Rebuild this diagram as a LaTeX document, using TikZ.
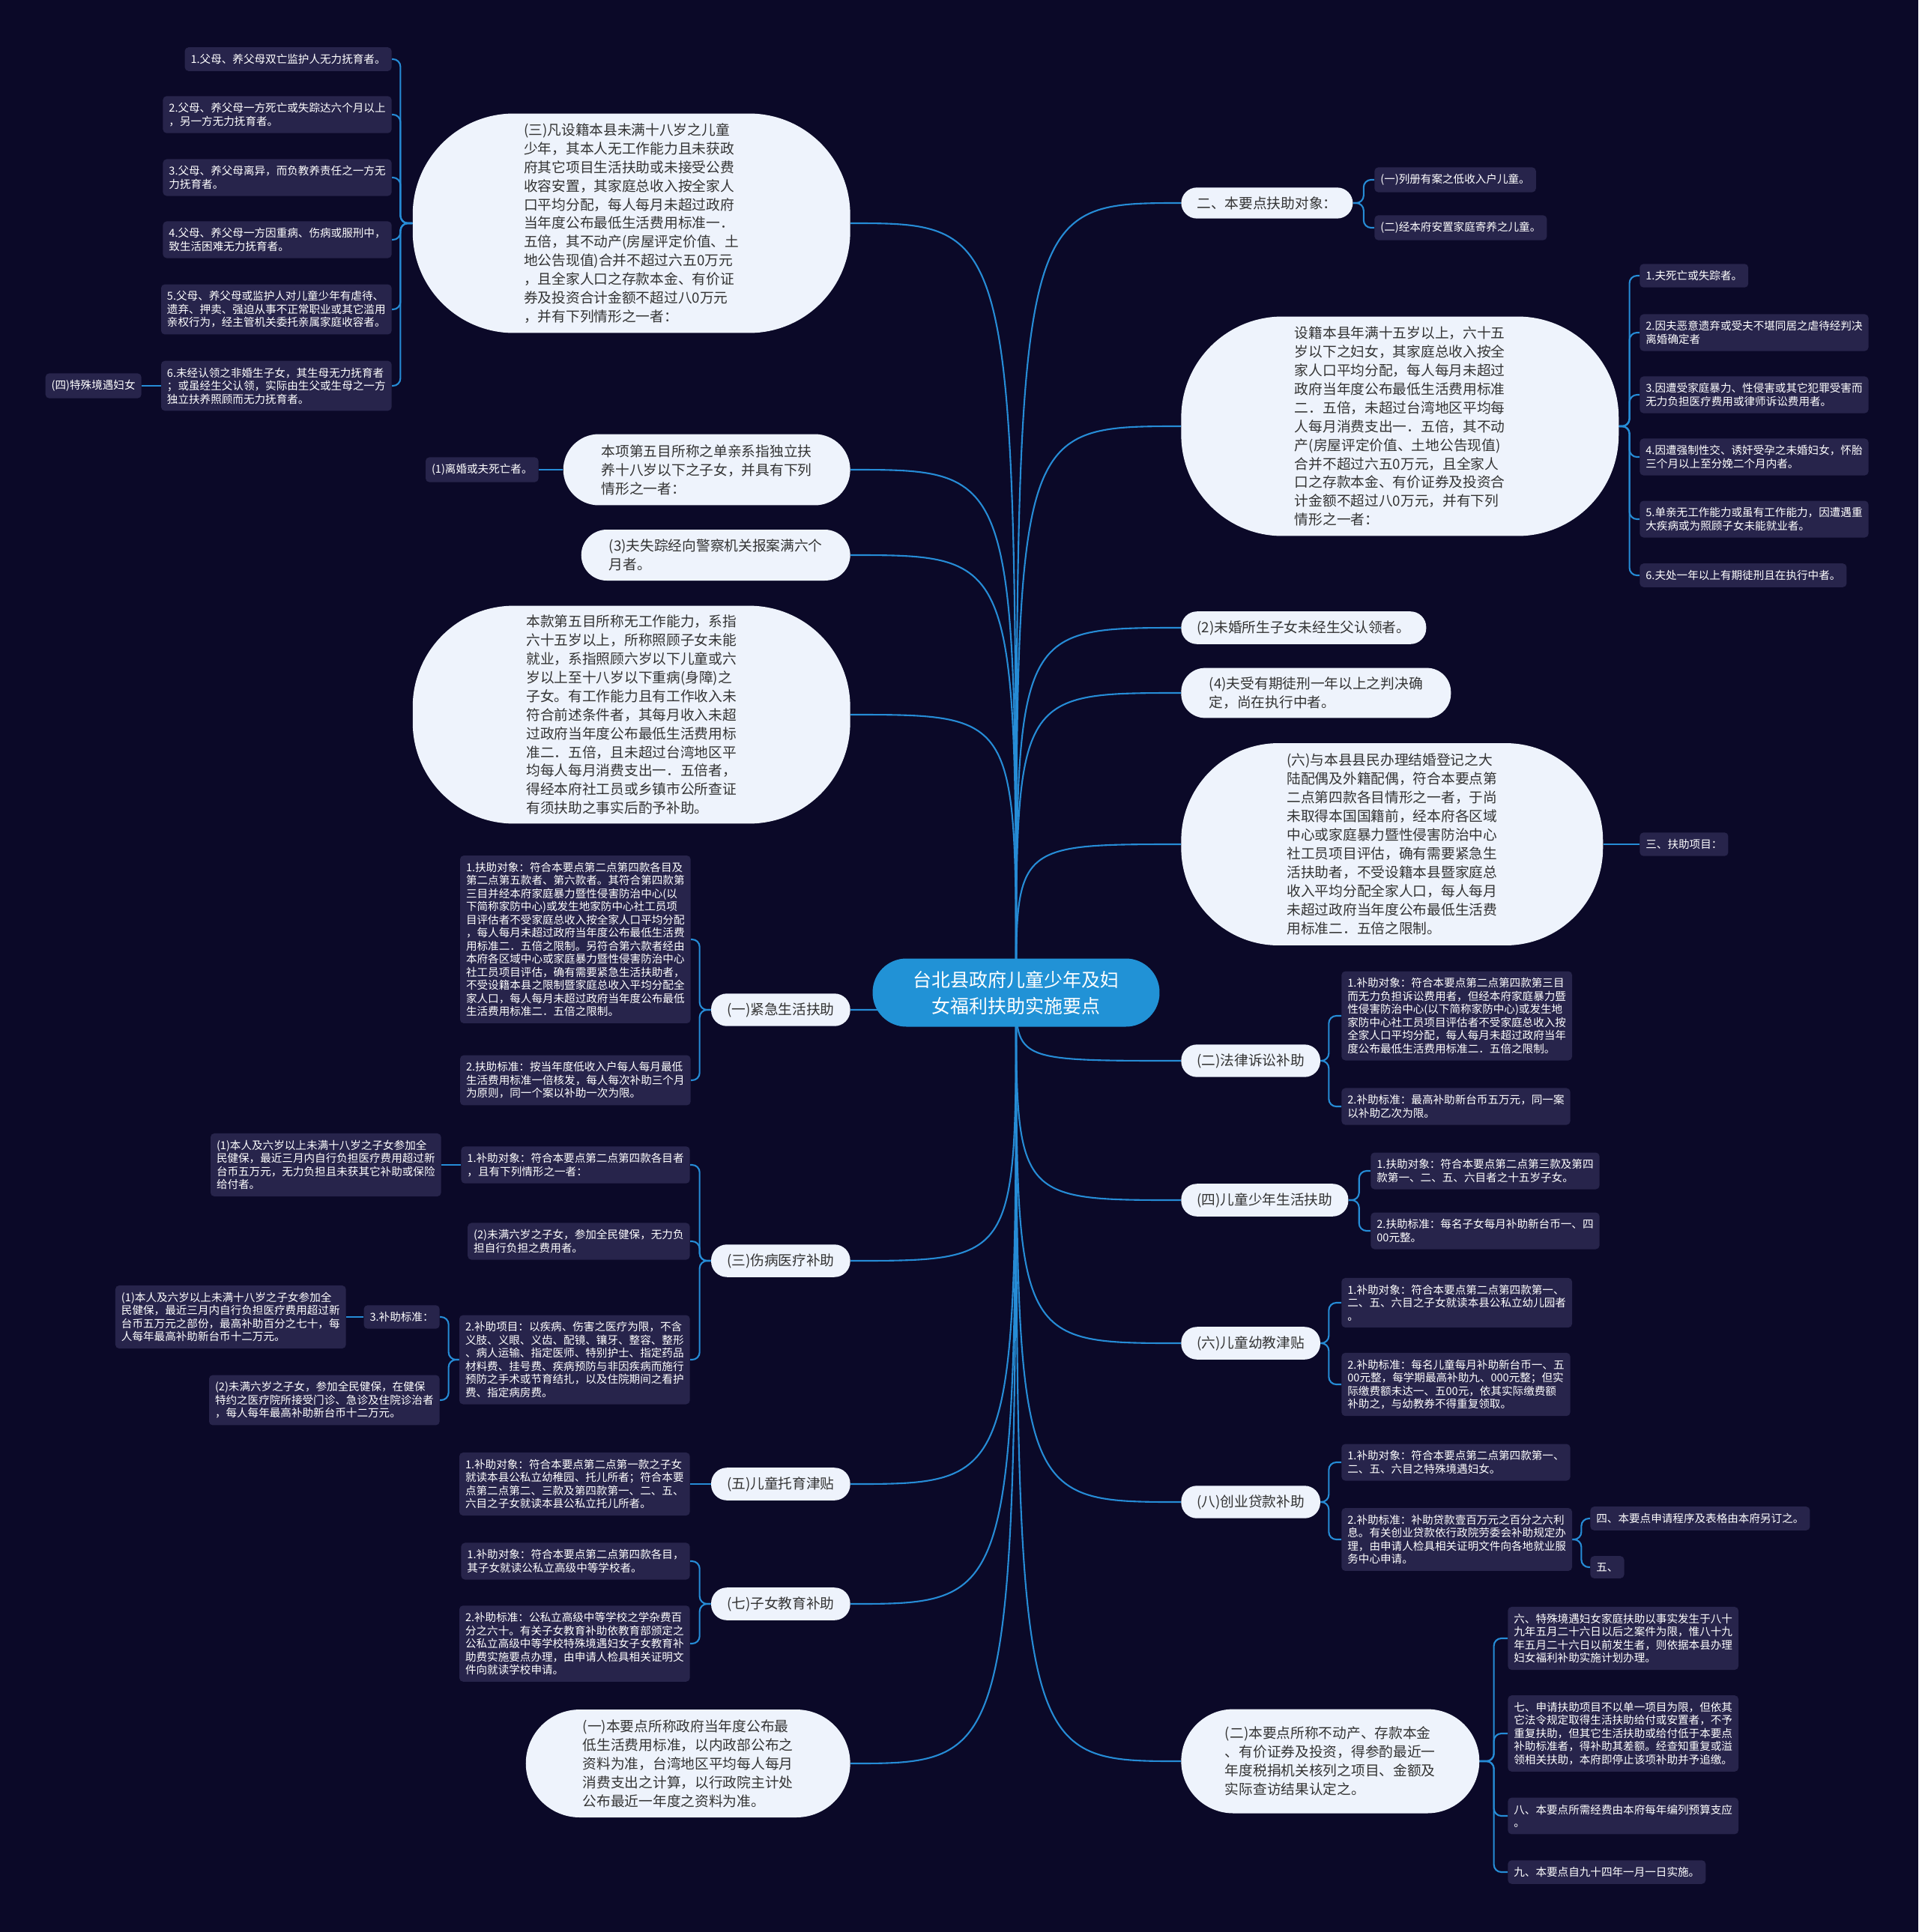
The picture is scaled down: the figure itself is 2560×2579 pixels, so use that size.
\documentclass[tikz,border=0pt]{standalone}
\usepackage{fontspec}
\setmainfont{Noto Sans CJK SC}
\usepackage{tikz}
\usetikzlibrary{backgrounds}
\definecolor{night}{RGB}{11,9,40}
\definecolor{slate}{RGB}{39,36,75}
\definecolor{ice}{RGB}{238,243,252}
\definecolor{sky}{RGB}{33,146,214}
\definecolor{wire}{RGB}{38,140,214}
\definecolor{ink}{RGB}{51,51,51}
\tikzset{
  topic/.style={fill=sky, text=white, align=center, rounded corners=0.9cm,
    minimum width=7.66cm, minimum height=1.82cm, font=\fontsize{14.2}{19.9}\selectfont},
  bubble/.style={fill=ice, text=ink, align=left, inner xsep=0.42cm, inner ysep=0.24cm,
    rounded corners=0.42cm, font=\fontsize{10.65}{14.2}\selectfont},
  leaf/.style={fill=slate, text=white, align=left, inner xsep=0.16cm, inner ysep=0.18cm,
    rounded corners=0.1cm, font=\fontsize{8.3}{9.95}\selectfont},
  link/.style={draw=wire, line width=1.2pt},
  brace/.style={link, rounded corners=0.2cm}
}
\begin{document}
\begin{tikzpicture}[x=0.02cm, y=-0.02cm]
\useasboundingbox (0,0) rectangle (2560,2579);
\node[topic] (hub) at (1356,1325) {台北县政府儿童少年及妇\\女福利扶助实施要点};

% left side
\node[bubble, anchor=east, minimum width=11.68cm, minimum height=5.86cm, rounded corners=2.7cm] (orphan) at (1135,298)
  {(三)凡设籍本县未满十八岁之儿童\\少年，其本人无工作能力且未获政\\府其它项目生活扶助或未接受公费\\收容安置，其家庭总收入按全家人\\口平均分配，每人每月未超过政府\\当年度公布最低生活费用标准一．\\五倍，其不动产(房屋评定价值、土\\地公告现值)合并不超过六五0万元\\，且全家人口之存款本金、有价证\\券及投资合计金额不超过八0万元\\，并有下列情形之一者：};
\node[leaf, anchor=east] (orphan1) at (523,79) {1.父母、养父母双亡监护人无力抚育者。};
\node[leaf, anchor=east] (orphan2) at (523,153) {2.父母、养父母一方死亡或失踪达六个月以上\\，另一方无力抚育者。};
\node[leaf, anchor=east] (orphan3) at (523,237) {3.父母、养父母离异，而负教养责任之一方无\\力抚育者。};
\node[leaf, anchor=east] (orphan4) at (523,320) {4.父母、养父母一方因重病、伤病或服刑中，\\致生活困难无力抚育者。};
\node[leaf, anchor=east] (orphan5) at (523,413) {5.父母、养父母或监护人对儿童少年有虐待、\\遗弃、押卖、强迫从事不正常职业或其它滥用\\亲权行为，经主管机关委托亲属家庭收容者。};
\node[leaf, anchor=east] (orphan6) at (523,515) {6.未经认领之非婚生子女，其生母无力抚育者\\；或虽经生父认领，实际由生父或生母之一方\\独立扶养照顾而无力抚育者。};
\node[leaf, anchor=east] (special) at (189,515) {(四)特殊境遇妇女};

\node[bubble, anchor=east, minimum width=7.66cm, minimum height=1.9cm, rounded corners=0.95cm] (singlepa) at (1135,627)
  {本项第五目所称之单亲系指独立扶\\养十八岁以下之子女，并具有下列\\情形之一者：};
\node[leaf, anchor=east] (divorce) at (719,627) {(1)离婚或夫死亡者。};
\node[bubble, anchor=east, minimum width=7.18cm, minimum height=1.36cm, rounded corners=0.68cm] (missing) at (1135,741)
  {(3)夫失踪经向警察机关报案满六个\\月者。};
\node[bubble, anchor=east, minimum width=11.68cm, minimum height=5.8cm, rounded corners=2.7cm] (noability) at (1135,954)
  {本款第五目所称无工作能力，系指\\六十五岁以上，所称照顾子女未能\\就业，系指照顾六岁以下儿童或六\\岁以上至十八岁以下重病(身障)之\\子女。有工作能力且有工作收入未\\符合前述条件者，其每月收入未超\\过政府当年度公布最低生活费用标\\准二．五倍，且未超过台湾地区平\\均每人每月消费支出一．五倍者，\\得经本府社工员或乡镇市公所查证\\有须扶助之事实后酌予补助。};

\node[bubble, anchor=east] (emergency) at (1135,1348) {(一)紧急生活扶助};
\node[leaf, anchor=east] (emerg1) at (922,1254) {1.扶助对象：符合本要点第二点第四款各目及\\第二点第五款者、第六款者。其符合第四款第\\三目并经本府家庭暴力暨性侵害防治中心(以\\下简称家防中心)或发生地家防中心社工员项\\目评估者不受家庭总收入按全家人口平均分配\\，每人每月未超过政府当年度公布最低生活费\\用标准二．五倍之限制。另符合第六款者经由\\本府各区域中心或家庭暴力暨性侵害防治中心\\社工员项目评估，确有需要紧急生活扶助者，\\不受设籍本县之限制暨家庭总收入平均分配全\\家人口，每人每月未超过政府当年度公布最低\\生活费用标准二．五倍之限制。};
\node[leaf, anchor=east] (emerg2) at (922,1442) {2.扶助标准：按当年度低收入户每人每月最低\\生活费用标准一倍核发，每人每次补助三个月\\为原则，同一个案以补助一次为限。};

\node[bubble, anchor=east] (medical) at (1135,1683) {(三)伤病医疗补助};
\node[leaf, anchor=east] (med1) at (921,1555) {1.补助对象：符合本要点第二点第四款各目者\\，且有下列情形之一者：};
\node[leaf, anchor=east] (med1a) at (589,1555) {(1)本人及六岁以上未满十八岁之子女参加全\\民健保，最近三月内自行负担医疗费用超过新\\台币五万元，无力负担且未获其它补助或保险\\给付者。};
\node[leaf, anchor=east] (med2) at (921,1657) {(2)未满六岁之子女，参加全民健保，无力负\\担自行负担之费用者。};
\node[leaf, anchor=east] (med3) at (921,1815) {2.补助项目：以疾病、伤害之医疗为限，不含\\义肢、义眼、义齿、配镜、镶牙、整容、整形\\、病人运输、指定医师、特别护士、指定药品\\材料费、挂号费、疾病预防与非因疾病而施行\\预防之手术或节育结扎，以及住院期间之看护\\费、指定病房费。};
\node[leaf, anchor=east] (med3a) at (587,1758) {3.补助标准：};
\node[leaf, anchor=east] (med3aa) at (462,1758) {(1)本人及六岁以上未满十八岁之子女参加全\\民健保，最近三月内自行负担医疗费用超过新\\台币五万元之部份，最高补助百分之七十，每\\人每年最高补助新台币十二万元。};
\node[leaf, anchor=east] (med3b) at (587,1869) {(2)未满六岁之子女，参加全民健保，在健保\\特约之医疗院所接受门诊、急诊及住院诊治者\\，每人每年最高补助新台币十二万元。};

\node[bubble, anchor=east] (daycare) at (1135,1981) {(五)儿童托育津贴};
\node[leaf, anchor=east] (care1) at (921,1981) {1.补助对象：符合本要点第二点第一款之子女\\就读本县公私立幼稚园、托儿所者；符合本要\\点第二点第二、三款及第四款第一、二、五、\\六目之子女就读本县公私立托儿所者。};

\node[bubble, anchor=east] (schooling) at (1135,2141) {(七)子女教育补助};
\node[leaf, anchor=east] (school1) at (921,2084) {1.补助对象：符合本要点第二点第四款各目，\\其子女就读公私立高级中等学校者。};
\node[leaf, anchor=east] (school2) at (921,2194) {2.补助标准：公私立高级中等学校之学杂费百\\分之六十。有关子女教育补助依教育部颁定之\\公私立高级中等学校特殊境遇妇女子女教育补\\助费实施要点办理，由申请人检具相关证明文\\件向就读学校申请。};

\node[bubble, anchor=east, minimum width=8.66cm, minimum height=2.88cm, rounded corners=1.44cm] (livingstd) at (1135,2354)
  {(一)本要点所称政府当年度公布最\\低生活费用标准，以内政部公布之\\资料为准，台湾地区平均每人每月\\消费支出之计算，以行政院主计处\\公布最近一年度之资料为准。};

% right side
\node[bubble, anchor=west] (targets) at (1576,271) {二、本要点扶助对象：};
\node[leaf, anchor=west] (target1) at (1834,240) {(一)列册有案之低收入户儿童。};
\node[leaf, anchor=west] (target2) at (1834,304) {(二)经本府安置家庭寄养之儿童。};

\node[bubble, anchor=west, minimum width=11.68cm, minimum height=5.86cm, rounded corners=2.7cm] (women) at (1576,569)
  {设籍本县年满十五岁以上，六十五\\岁以下之妇女，其家庭总收入按全\\家人口平均分配，每人每月未超过\\政府当年度公布最低生活费用标准\\二．五倍，未超过台湾地区平均每\\人每月消费支出一．五倍，其不动\\产(房屋评定价值、土地公告现值)\\合并不超过六五0万元，且全家人\\口之存款本金、有价证券及投资合\\计金额不超过八0万元，并有下列\\情形之一者：};
\node[leaf, anchor=west] (women1) at (2188,368) {1.夫死亡或失踪者。};
\node[leaf, anchor=west] (women2) at (2188,444) {2.因夫恶意遗弃或受夫不堪同居之虐待经判决\\离婚确定者};
\node[leaf, anchor=west] (women3) at (2188,527) {3.因遭受家庭暴力、性侵害或其它犯罪受害而\\无力负担医疗费用或律师诉讼费用者。};
\node[leaf, anchor=west] (women4) at (2188,610) {4.因遭强制性交、诱奸受孕之未婚妇女，怀胎\\三个月以上至分娩二个月内者。};
\node[leaf, anchor=west] (women5) at (2188,693) {5.单亲无工作能力或虽有工作能力，因遭遇重\\大疾病或为照顾子女未能就业者。};
\node[leaf, anchor=west] (women6) at (2188,768) {6.夫处一年以上有期徒刑且在执行中者。};

\node[bubble, anchor=west] (unwed) at (1576,838) {(2)未婚所生子女未经生父认领者。};
\node[bubble, anchor=west, minimum width=7.2cm, minimum height=1.28cm, rounded corners=0.64cm] (prison) at (1576,925)
  {(4)夫受有期徒刑一年以上之判决确\\定，尚在执行中者。};
\node[bubble, anchor=west, minimum width=11.26cm, minimum height=5.4cm, rounded corners=2.6cm] (spouse) at (1576,1127)
  {(六)与本县县民办理结婚登记之大\\陆配偶及外籍配偶，符合本要点第\\二点第四款各目情形之一者，于尚\\未取得本国国籍前，经本府各区域\\中心或家庭暴力暨性侵害防治中心\\社工员项目评估，确有需要紧急生\\活扶助者，不受设籍本县暨家庭总\\收入平均分配全家人口，每人每月\\未超过政府当年度公布最低生活费\\用标准二．五倍之限制。};
\node[leaf, anchor=west] (items) at (2188,1127) {三、扶助项目：};

\node[bubble, anchor=west] (lawsuit) at (1576,1416) {(二)法律诉讼补助};
\node[leaf, anchor=west] (law1) at (1790,1356) {1.补助对象：符合本要点第二点第四款第三目\\而无力负担诉讼费用者，但经本府家庭暴力暨\\性侵害防治中心(以下简称家防中心)或发生地\\家防中心社工员项目评估者不受家庭总收入按\\全家人口平均分配，每人每月未超过政府当年\\度公布最低生活费用标准二．五倍之限制。};
\node[leaf, anchor=west] (law2) at (1790,1477) {2.补助标准：最高补助新台币五万元，同一案\\以补助乙次为限。};

\node[bubble, anchor=west] (youth) at (1576,1602) {(四)儿童少年生活扶助};
\node[leaf, anchor=west] (youth1) at (1829,1563) {1.扶助对象：符合本要点第二点第三款及第四\\款第一、二、五、六目者之十五岁子女。};
\node[leaf, anchor=west] (youth2) at (1829,1643) {2.扶助标准：每名子女每月补助新台币一、四\\00元整。};

\node[bubble, anchor=west] (preschool) at (1576,1793) {(六)儿童幼教津贴};
\node[leaf, anchor=west] (pre1) at (1790,1739) {1.补助对象：符合本要点第二点第四款第一、\\二、五、六目之子女就读本县公私立幼儿园者\\。};
\node[leaf, anchor=west] (pre2) at (1790,1848) {2.补助标准：每名儿童每月补助新台币一、五\\00元整，每学期最高补助九、000元整；但实\\际缴费额未达一、五00元，依其实际缴费额\\补助之，与幼教券不得重复领取。};

\node[bubble, anchor=west] (startup) at (1576,2005) {(八)创业贷款补助};
\node[leaf, anchor=west] (start1) at (1790,1952) {1.补助对象：符合本要点第二点第四款第一、\\二、五、六目之特殊境遇妇女。};
\node[leaf, anchor=west] (start2) at (1790,2055) {2.补助标准：补助贷款壹百万元之百分之六利\\息。有关创业贷款依行政院劳委会补助规定办\\理，由申请人检具相关证明文件向各地就业服\\务中心申请。};
\node[leaf, anchor=west] (start2a) at (2122,2027) {四、本要点申请程序及表格由本府另订之。};
\node[leaf, anchor=west] (start2b) at (2122,2092) {五、};

\node[bubble, anchor=west, minimum width=7.96cm, minimum height=2.78cm, rounded corners=1.39cm] (assets) at (1576,2351)
  {(二)本要点所称不动产、存款本金\\、有价证券及投资，得参酌最近一\\年度税捐机关核列之项目、金额及\\实际查访结果认定之。};
\node[leaf, anchor=west] (asset1) at (2012,2187) {六、特殊境遇妇女家庭扶助以事实发生于八十\\九年五月二十六日以后之案件为限，惟八十九\\年五月二十六日以前发生者，则依据本县办理\\妇女福利补助实施计划办理。};
\node[leaf, anchor=west] (asset2) at (2012,2314) {七、申请扶助项目不以单一项目为限，但依其\\它法令规定取得生活扶助给付或安置者，不予\\重复扶助，但其它生活扶助或给付低于本要点\\补助标准者，得补助其差额。经查知重复或溢\\领相关扶助，本府即停止该项补助并予追缴。};
\node[leaf, anchor=west] (asset3) at (2012,2424) {八、本要点所需经费由本府每年编列预算支应\\。};
\node[leaf, anchor=west] (asset4) at (2012,2499) {九、本要点自九十四年一月一日实施。};

\begin{pgfonlayer}{background}
\fill[night] (0,0) rectangle (2560,2579);
% from the centre
\draw[link] (hub.center) .. controls (hub.center |- orphan.east) .. (orphan.east);
\draw[link] (hub.center) .. controls (hub.center |- singlepa.east) .. (singlepa.east);
\draw[link] (hub.center) .. controls (hub.center |- missing.east) .. (missing.east);
\draw[link] (hub.center) .. controls (hub.center |- noability.east) .. (noability.east);
\draw[link] (hub.center) .. controls (hub.center |- emergency.east) .. (emergency.east);
\draw[link] (hub.center) .. controls (hub.center |- medical.east) .. (medical.east);
\draw[link] (hub.center) .. controls (hub.center |- daycare.east) .. (daycare.east);
\draw[link] (hub.center) .. controls (hub.center |- schooling.east) .. (schooling.east);
\draw[link] (hub.center) .. controls (hub.center |- livingstd.east) .. (livingstd.east);
\draw[link] (hub.center) .. controls (hub.center |- targets.west) .. (targets.west);
\draw[link] (hub.center) .. controls (hub.center |- women.west) .. (women.west);
\draw[link] (hub.center) .. controls (hub.center |- unwed.west) .. (unwed.west);
\draw[link] (hub.center) .. controls (hub.center |- prison.west) .. (prison.west);
\draw[link] (hub.center) .. controls (hub.center |- spouse.west) .. (spouse.west);
\draw[link] (hub.center) .. controls (hub.center |- lawsuit.west) .. (lawsuit.west);
\draw[link] (hub.center) .. controls (hub.center |- youth.west) .. (youth.west);
\draw[link] (hub.center) .. controls (hub.center |- preschool.west) .. (preschool.west);
\draw[link] (hub.center) .. controls (hub.center |- startup.west) .. (startup.west);
\draw[link] (hub.center) .. controls (hub.center |- assets.west) .. (assets.west);
% left brackets
\draw[brace] (orphan.west) -- ++(-16,0) |- (orphan1.east);
\draw[brace] (orphan.west) -- ++(-16,0) |- (orphan2.east);
\draw[brace] (orphan.west) -- ++(-16,0) |- (orphan3.east);
\draw[brace] (orphan.west) -- ++(-16,0) |- (orphan4.east);
\draw[brace] (orphan.west) -- ++(-16,0) |- (orphan5.east);
\draw[brace] (orphan.west) -- ++(-16,0) |- (orphan6.east);
\draw[link] (orphan6.west) -- (special.east);
\draw[link] (singlepa.west) -- (divorce.east);
\draw[brace] (emergency.west) -- ++(-15,0) |- (emerg1.east);
\draw[brace] (emergency.west) -- ++(-15,0) |- (emerg2.east);
\draw[brace] (medical.west) -- ++(-15,0) |- (med1.east);
\draw[brace] (medical.west) -- ++(-15,0) |- (med2.east);
\draw[brace] (medical.west) -- ++(-15,0) |- (med3.east);
\draw[link] (med1.west) -- (med1a.east);
\draw[brace] (med3.west) -- ++(-14,0) |- (med3a.east);
\draw[brace] (med3.west) -- ++(-14,0) |- (med3b.east);
\draw[link] (med3a.west) -- (med3aa.east);
\draw[link] (daycare.west) -- (care1.east);
\draw[brace] (schooling.west) -- ++(-15,0) |- (school1.east);
\draw[brace] (schooling.west) -- ++(-15,0) |- (school2.east);
% right brackets
\draw[brace] (targets.east) -- ++(14,0) |- (target1.west);
\draw[brace] (targets.east) -- ++(14,0) |- (target2.west);
\draw[brace] (women.east) -- ++(14,0) |- (women1.west);
\draw[brace] (women.east) -- ++(14,0) |- (women2.west);
\draw[brace] (women.east) -- ++(14,0) |- (women3.west);
\draw[brace] (women.east) -- ++(14,0) |- (women4.west);
\draw[brace] (women.east) -- ++(14,0) |- (women5.west);
\draw[brace] (women.east) -- ++(14,0) |- (women6.west);
\draw[link] (spouse.east) -- (items.west);
\draw[brace] (lawsuit.east) -- ++(11,0) |- (law1.west);
\draw[brace] (lawsuit.east) -- ++(11,0) |- (law2.west);
\draw[brace] (youth.east) -- ++(14,0) |- (youth1.west);
\draw[brace] (youth.east) -- ++(14,0) |- (youth2.west);
\draw[brace] (preschool.east) -- ++(11,0) |- (pre1.west);
\draw[brace] (preschool.east) -- ++(11,0) |- (pre2.west);
\draw[brace] (startup.east) -- ++(11,0) |- (start1.west);
\draw[brace] (startup.east) -- ++(11,0) |- (start2.west);
\draw[brace] (start2.east) -- ++(12,0) |- (start2a.west);
\draw[brace] (start2.east) -- ++(12,0) |- (start2b.west);
\draw[brace] (assets.east) -- ++(19,0) |- (asset1.west);
\draw[brace] (assets.east) -- ++(19,0) |- (asset2.west);
\draw[brace] (assets.east) -- ++(19,0) |- (asset3.west);
\draw[brace] (assets.east) -- ++(19,0) |- (asset4.west);
\end{pgfonlayer}
\end{tikzpicture}
\end{document}
